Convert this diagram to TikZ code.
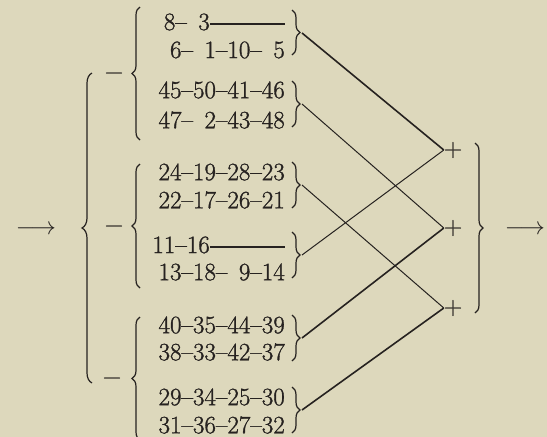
\documentclass[tikz,border=0pt]{standalone}
\usepackage{fontspec}
\usetikzlibrary{decorations.pathreplacing}
\newfontfamily\numfont{Latin Modern Roman}[FakeBold=1.2]
\definecolor{paper}{RGB}{221,216,188}
\definecolor{ink}{RGB}{38,34,32}
\newcommand\ndsh{\textendash}
\newcommand\zsp{\phantom{1}}
\newcommand\longdash{\rule[0.22em]{3em}{1.3pt}}
\begin{document}
\begin{tikzpicture}[x=1pt,y=-1pt,
  every node/.style={font=\numfont\fontsize{25}{30}\selectfont, text=ink, inner sep=0pt},
  rowtext/.style={anchor=east},
  sign/.style={anchor=base},
  bracepath/.style={draw=ink, line width=1.2pt, decorate, decoration={brace, amplitude=#1}},
  heavyline/.style={draw=ink, line width=1.6pt},
  lightline/.style={draw=ink, line width=1.0pt}]
\fill[paper] (0,0) rectangle (547,437);
\useasboundingbox (0,0) rectangle (547,437);
% rows
\node[rowtext] (r1) at (285,22) {\zsp8\ndsh\zsp3\longdash};
\node[rowtext] (r2) at (285,50) {\zsp6\ndsh\zsp1\ndsh10\ndsh\zsp5};
\node[rowtext] (r3) at (285,90) {45\ndsh50\ndsh41\ndsh46};
\node[rowtext] (r4) at (285,120) {47\ndsh\zsp2\ndsh43\ndsh48};
\node[rowtext] (r5) at (285,172) {24\ndsh19\ndsh28\ndsh23};
\node[rowtext] (r6) at (285,200) {22\ndsh17\ndsh26\ndsh21};
\node[rowtext] (r7) at (285,245) {11\ndsh16\longdash};
\node[rowtext] (r8) at (285,272) {13\ndsh18\ndsh\zsp9\ndsh14};
\node[rowtext] (r9) at (285,325) {40\ndsh35\ndsh44\ndsh39};
\node[rowtext] (r10) at (285,352) {38\ndsh33\ndsh42\ndsh37};
\node[rowtext] (r11) at (285,397) {29\ndsh34\ndsh25\ndsh30};
\node[rowtext] (r12) at (285,425) {31\ndsh36\ndsh27\ndsh32};
% small right braces
\draw[bracepath=8pt] (292,10) -- (292,55);
\draw[bracepath=8pt] (292,81) -- (292,127);
\draw[bracepath=8pt] (292,162) -- (292,208);
\draw[bracepath=8pt] (292,232) -- (292,278);
\draw[bracepath=8pt] (292,315) -- (292,361);
\draw[bracepath=8pt] (292,387) -- (292,433);
% inner left braces
\draw[bracepath=8pt] (140,140) -- (140,7);
\draw[bracepath=8pt] (140,288) -- (140,164);
\draw[bracepath=8pt] (140,440) -- (140,317);
% big braces
\draw[bracepath=10pt] (92,383) -- (92,73);
\draw[bracepath=8pt] (475,143) -- (475,313);
% minus signs
\node[sign] (m1) at (114,79.25) {−};
\node[sign] (m2) at (114,232.25) {−};
\node[sign] (m3) at (112,384.25) {−};
% arrows
\node[sign] (inarrow) at (36,234.25) {$\longrightarrow$};
\node[sign] (outarrow) at (525,234.25) {$\longrightarrow$};
% plus signs
\node[sign] (p1) at (453,156.25) {+};
\node[sign] (p2) at (453,234.25) {+};
\node[sign] (p3) at (453,314.25) {+};
% brace tips
\coordinate (ta) at (302,33);
\coordinate (tb) at (302,104);
\coordinate (tc) at (302,185);
\coordinate (td) at (302,255);
\coordinate (te) at (302,338);
\coordinate (tf) at (302,410);
% connectors
\draw[heavyline] (ta) -- (p1.west);
\draw[lightline] (tb) -- (p2.west);
\draw[lightline] (tc) -- (p3.west);
\draw[lightline] (td) -- (p1.west);
\draw[heavyline] (te) -- (p2.west);
\draw[heavyline] (tf) -- (p3.west);
\end{tikzpicture}
\end{document}
